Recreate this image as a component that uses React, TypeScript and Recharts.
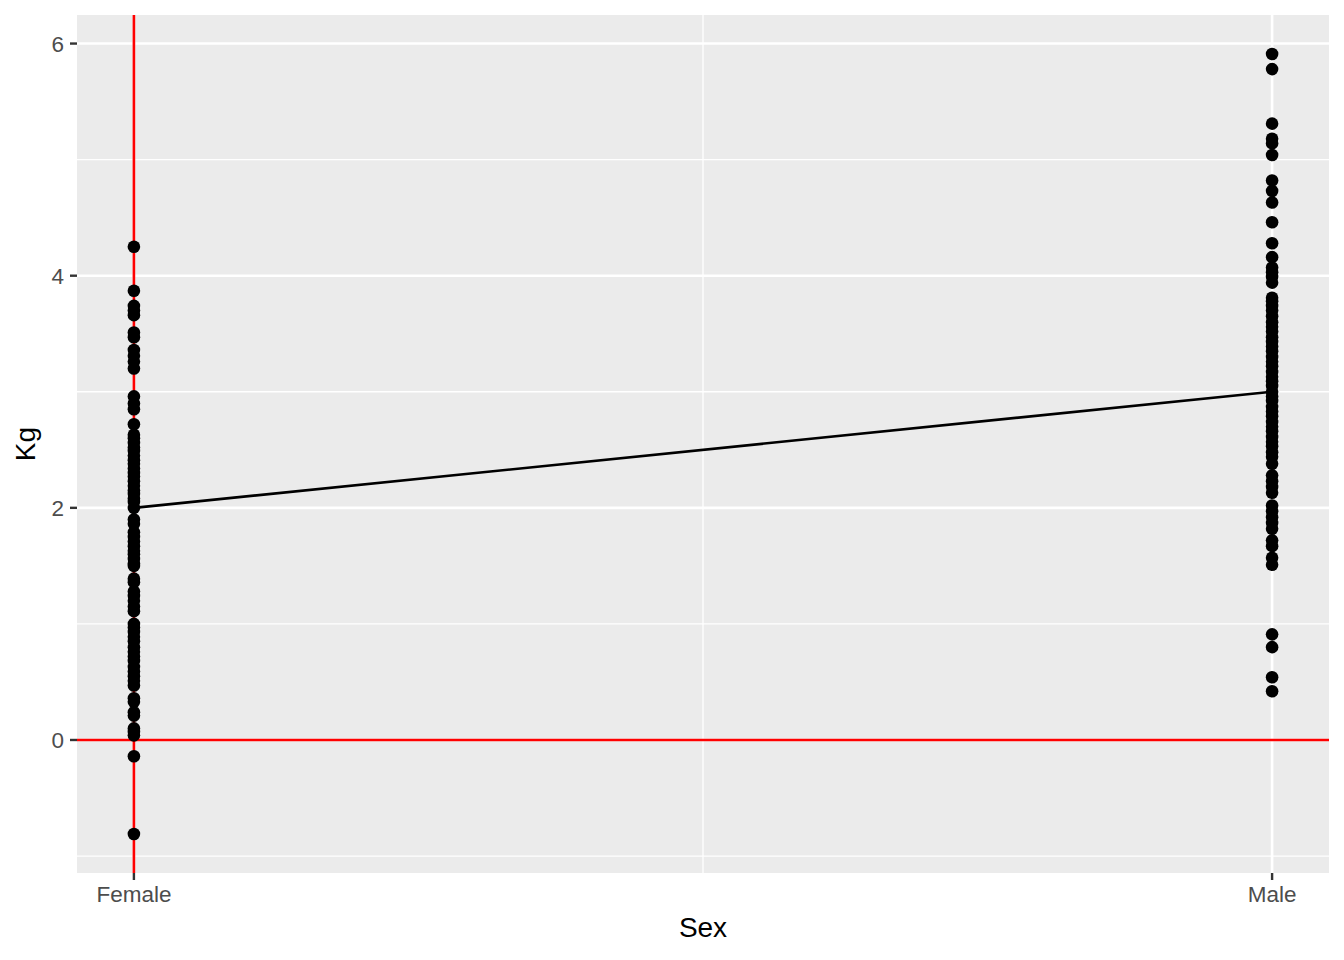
import {
  ComposedChart, Scatter, Line, XAxis, YAxis, CartesianGrid, ReferenceLine
} from 'recharts'

// Kg values per sex
const femaleKg = [
  4.25, 3.87, 3.74, 3.70, 3.66, 3.51, 3.47, 3.36, 3.31, 3.26, 3.20, 2.96, 2.90, 2.85, 2.72,
  2.63, 2.60, 2.56, 2.52, 2.49, 2.45, 2.41, 2.38, 2.34, 2.30, 2.27, 2.23, 2.19, 2.15, 2.12,
  2.08, 2.05, 2.00, 1.90, 1.86, 1.79, 1.75, 1.71, 1.67, 1.63, 1.60, 1.56, 1.52, 1.50, 1.39,
  1.36, 1.28, 1.24, 1.20, 1.15, 1.11, 1.00, 0.97, 0.93, 0.89, 0.85, 0.80, 0.76, 0.72, 0.68,
  0.63, 0.59, 0.55, 0.51, 0.47, 0.36, 0.33, 0.24, 0.21, 0.10, 0.07, 0.04, -0.14, -0.81,
]
const maleKg = [
  5.91, 5.78, 5.31, 5.18, 5.14, 5.04, 4.82, 4.73, 4.63, 4.46, 4.28, 4.16, 4.07, 4.03, 3.99,
  3.94, 3.81, 3.78, 3.74, 3.70, 3.65, 3.60, 3.56, 3.52, 3.47, 3.43, 3.39, 3.35, 3.30, 3.26,
  3.22, 3.17, 3.13, 3.09, 3.05, 3.00, 2.96, 2.92, 2.87, 2.83, 2.79, 2.74, 2.70, 2.66, 2.61,
  2.57, 2.53, 2.48, 2.44, 2.38, 2.28, 2.23, 2.18, 2.13, 2.02, 1.97, 1.92, 1.87, 1.82, 1.72,
  1.67, 1.57, 1.51, 0.91, 0.80, 0.54, 0.42,
]
const sexLabels = ['Female', 'Male']
// mean line from Female to Male
const lineKg = [2, 3]

const yMajor = [0, 2, 4, 6]
const yMinor = [-1, 1, 3, 5]
const xMajor = [0, 1]
const xMinor = [0.5]

const FONT = '"Liberation Sans", Arial, Helvetica, sans-serif'

const points = [
  ...femaleKg.map(y => ({ x: 0, y })),
  ...maleKg.map(y => ({ x: 1, y })),
]
const lineData = lineKg.map((y, i) => ({ x: i, y }))

const Dot = (props: any) => <circle cx={props.cx} cy={props.cy} r={6.3} fill="#000000" />

export default function App() {
  return (
    <div style={{ position: 'absolute', left: 0, top: 0, width: 1344, height: 960, background: '#fff' }}>
      <ComposedChart width={1344} height={960} margin={{ top: 15, right: 15, bottom: 0, left: 0 }}>
        <CartesianGrid fill="#EBEBEB" stroke="none" horizontal={false} vertical={false} />
        {yMinor.map(v => <ReferenceLine key={'ym' + v} y={v} stroke="#fff" strokeWidth={1.3} />)}
        {xMinor.map(v => <ReferenceLine key={'xm' + v} x={v} stroke="#fff" strokeWidth={1.3} />)}
        {yMajor.map(v => <ReferenceLine key={'yM' + v} y={v} stroke="#fff" strokeWidth={2.6} />)}
        {xMajor.map(v => <ReferenceLine key={'xM' + v} x={v} stroke="#fff" strokeWidth={2.6} />)}
        <ReferenceLine y={0} stroke="#FF0000" strokeWidth={2.6} />
        <ReferenceLine x={0} stroke="#FF0000" strokeWidth={2.6} />
        <XAxis
          type="number"
          dataKey="x"
          domain={[-0.05, 1.05]}
          ticks={xMajor}
          tickFormatter={(v: number) => sexLabels[v]}
          allowDataOverflow
          height={87}
          axisLine={false}
          tickSize={7}
          tickMargin={6}
          tickLine={{ stroke: '#333333', strokeWidth: 2.4 }}
          tick={{ fill: '#4D4D4D', fontSize: 22.5, fontFamily: FONT }}
          label={{ value: 'Sex', position: 'insideBottom', offset: 23, fill: '#000', fontSize: 28, fontFamily: FONT }}
        />
        <YAxis
          type="number"
          dataKey="y"
          domain={[-1.146, 6.246]}
          ticks={yMajor}
          allowDataOverflow
          width={77}
          axisLine={false}
          tickSize={7}
          tickMargin={6}
          tickLine={{ stroke: '#333333', strokeWidth: 2.4 }}
          tick={{ fill: '#4D4D4D', fontSize: 22.5, fontFamily: FONT }}
          label={{
            content: () => (
              <text x={35} y={444} transform="rotate(-90 35 444)" textAnchor="middle"
                fontSize={28} fontFamily={FONT} fill="#000">Kg</text>
            ),
          }}
        />
        <Scatter data={points} shape={Dot} isAnimationActive={false} />
        <Line data={lineData} dataKey="y" type="linear" stroke="#000" strokeWidth={2.6}
          dot={false} activeDot={false} isAnimationActive={false} />
      </ComposedChart>
    </div>
  )
}
